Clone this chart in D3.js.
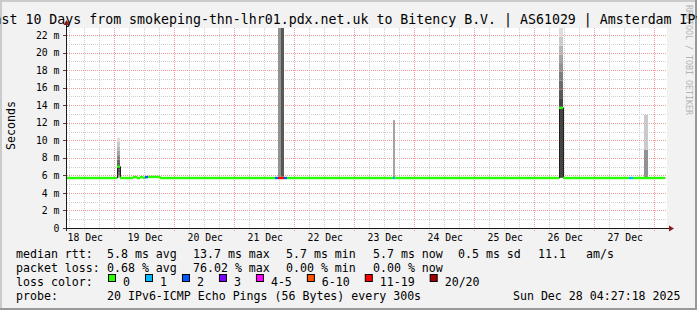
<!DOCTYPE html>
<html>
<head>
<meta charset="utf-8">
<script src="https://cdn.jsdelivr.net/npm/d3@7"></script>
<style>
body{margin:0;background:#f2f2f2}
svg{display:block}
text{font-family:"DejaVu Sans Mono",monospace}
</style>
</head>
<body>
<script>
// ---- data ----
var titleText = "Last 10 Days from smokeping-thn-lhr01.pdx.net.uk to Bitency B.V. | AS61029 | Amsterdam IPv6";
var yTicks = [0,2,4,6,8,10,12,14,16,18,20,22];        // ms
var dayLabels = ["18 Dec","19 Dec","20 Dec","21 Dec","22 Dec","23 Dec","24 Dec","25 Dec","26 Dec","27 Dec"];

// median rtt runs: start, end, median (ms), lost pings out of 20
var medianRuns = [
  ["12-18 05:05","12-19 01:05",5.7,0],
  ["12-19 01:05","12-19 02:15",7.0,0],
  ["12-19 02:15","12-19 07:30",5.7,0],
  ["12-19 07:30","12-19 09:05",5.8,0],
  ["12-19 09:05","12-19 10:15",5.7,0],
  ["12-19 10:15","12-19 11:30",5.8,0],
  ["12-19 11:30","12-19 12:15",5.7,0],
  ["12-19 12:15","12-19 13:30",5.8,2],
  ["12-19 13:30","12-19 18:15",5.82,0],
  ["12-19 18:15","12-21 16:15",5.7,0],
  ["12-21 16:15","12-21 17:30",5.7,2],
  ["12-21 17:30","12-21 18:40",5.7,14],
  ["12-21 18:40","12-21 19:55",5.7,11],
  ["12-21 19:55","12-21 21:05",5.7,2],
  ["12-21 21:05","12-23 15:30",5.7,0],
  ["12-23 15:30","12-23 16:15",5.7,1],
  ["12-23 16:15","12-26 09:55",5.7,0],
  ["12-26 09:55","12-26 11:30",13.7,0],
  ["12-26 11:30","12-27 13:55",5.7,0],
  ["12-27 13:55","12-27 15:30",5.7,1],
  ["12-27 15:30","12-28 04:15",5.7,0]
];

// smoke: start, end, sorted ping rtts (ms) that came back
var smokeSteps = [
  ["12-19 01:05","12-19 02:15",[5.7,5.7,5.7,5.8,5.8,5.9,6.0,6.3,6.7,7.0,7.0,7.2,7.5,7.8,8.1,8.4,8.8,9.3,9.8,10.3]],
  ["12-21 17:30","12-21 18:40",[5.7,5.7,5.8,5.8,5.9,80]],
  ["12-21 18:40","12-21 19:55",[5.7,5.7,5.8,5.8,5.8,5.8,5.9,5.9,90]],
  ["12-23 15:30","12-23 16:15",[5.7,5.7,5.7,5.7,5.7,5.8,5.8,5.8,5.8,5.8,5.8,5.8,5.8,5.9,5.9,5.9,12.3,12.3,12.3]],
  ["12-26 09:55","12-26 11:30",[5.7,5.7,5.7,5.7,5.7,5.7,5.7,5.7,5.8,13.6,13.8,14.8,15.8,16.8,17.8,18.8,19.8,20.8,21.8,24.0]],
  ["12-27 19:55","12-27 21:30",[5.7,5.7,5.7,5.7,5.7,5.7,5.7,5.8,5.8,5.8,5.8,5.8,5.8,5.9,5.9,8.9,8.9,8.9,12.9,12.9]]
];

var lossLabels = ["0","1","2","3","4-5","6-10","11-19","20/20"];
var lossLimits = [0,1,2,3,5,10,19,20];
var lossColors = ["#26ff00","#00b8ff","#0059ff","#7e00ff","#ff00ff","#ff5500","#ff0000","#a10000"];

var rttValues = [5.8,13.7,5.7,5.7,0.5];
var rttNames = ["avg","max","min","now","sd"];
var lossValues = [0.68,76.02,0.00,0.00];
var lossNames = ["avg","max","min","now"];
var amsValue = 11.1;
var probeText = "20 IPv6-ICMP Echo Pings (56 Bytes) every 300s";
var stampText = "Sun Dec 28 04:27:18 2025";

// ---- drawing ----
var W = 697, H = 310, PINGS = 20;
var parseT = d3.utcParse("%Y-%m-%d %H:%M");
function T(s){ return parseT("2025-" + s); }

var svg = d3.select("body").append("svg").attr("width",W).attr("height",H);

// frame with rrdtool style shading
svg.append("rect").attr("width",W).attr("height",H).attr("fill","#f2f2f2");
svg.append("rect").attr("width",W).attr("height",2).attr("fill","#cbcbcb");
svg.append("rect").attr("width",2).attr("height",H).attr("fill","#cbcbcb");
svg.append("rect").attr("x",W-2).attr("width",2).attr("height",H).attr("fill","#999999");
svg.append("rect").attr("y",H-2).attr("width",W).attr("height",2).attr("fill","#999999");

var x = d3.scaleUtc().domain([T("12-18 05:05"), T("12-28 05:05")]).range([67,667]);
var y = d3.scaleLinear().domain([0,22.8]).range([228,28]);

var pLeft = x.range()[0], pRight = x.range()[1], pTop = y.range()[1], pBottom = y.range()[0];

svg.append("rect")
  .attr("x",pLeft).attr("y",pTop)
  .attr("width",pRight-pLeft).attr("height",pBottom-pTop)
  .attr("fill","#ffffff");

// grid
var grid = svg.append("g").attr("fill","none").attr("stroke-dasharray","1,1");
var majorX = x.ticks(d3.utcDay);
var minorX = x.ticks(d3.utcHour.every(6)).filter(function(d){ return d.getUTCHours() != 0; });

grid.selectAll(".vmin").data(minorX).enter().append("line")
  .attr("x1",function(d){ return Math.round(x(d))+0.5; })
  .attr("x2",function(d){ return Math.round(x(d))+0.5; })
  .attr("y1",pTop).attr("y2",pBottom+3)
  .attr("stroke","#cfcfcf");

var minorY = y.ticks(23).filter(function(v){ return yTicks.indexOf(v) < 0; });
grid.selectAll(".hmin").data(minorY).enter().append("line")
  .attr("x1",pLeft).attr("x2",pRight)
  .attr("y1",function(d){ return Math.round(y(d))+0.5; })
  .attr("y2",function(d){ return Math.round(y(d))+0.5; })
  .attr("stroke","#cfcfcf");

grid.selectAll(".vmaj").data(majorX).enter().append("line")
  .attr("x1",function(d){ return Math.round(x(d))+0.5; })
  .attr("x2",function(d){ return Math.round(x(d))+0.5; })
  .attr("y1",pTop).attr("y2",pBottom+3)
  .attr("stroke","#f09a9a");

grid.selectAll(".hmaj").data(yTicks.slice(1)).enter().append("line")
  .attr("x1",pLeft).attr("x2",pRight)
  .attr("y1",function(d){ return Math.round(y(d))+0.5; })
  .attr("y2",function(d){ return Math.round(y(d))+0.5; })
  .attr("stroke","#f09a9a");

// plot clip
svg.append("clipPath").attr("id","plotclip")
  .append("rect").attr("x",pLeft).attr("y",pTop).attr("width",pRight-pLeft).attr("height",pBottom-pTop);
var plot = svg.append("g").attr("clip-path","url(#plotclip)");

// smoke bands: darker near the median rank, lighter at the extremes
var half = PINGS/2;
smokeSteps.forEach(function(s){
  var x0 = Math.round(x(T(s[0]))), x1 = Math.round(x(T(s[1])));
  var p = s[2];
  for (var k = 1; k < p.length; k++) {
    if (p[k] == p[k-1]) continue;
    var g = Math.round(190/half*Math.abs(half-k)) + 50;
    plot.append("rect")
      .attr("x",x0).attr("width",x1-x0)
      .attr("y",y(p[k])).attr("height",y(p[k-1])-y(p[k]))
      .attr("fill",d3.rgb(g,g,g));
  }
});

// thin dark median line
var pts = [];
medianRuns.forEach(function(r){
  pts.push([T(r[0]),r[2]]);
  pts.push([T(r[1]),r[2]]);
});
var line = d3.line()
  .x(function(d){ return Math.round(x(d[0]))+0.5; })
  .y(function(d){ return y(d[1]); });
plot.append("path").datum(pts)
  .attr("d",line)
  .attr("fill","none")
  .attr("stroke","#202020")
  .attr("stroke-width",1);

// loss coloured median bars
function lossColor(n){
  for (var i = 0; i < lossLimits.length; i++) if (n <= lossLimits[i]) return lossColors[i];
  return lossColors[lossColors.length-1];
}
plot.selectAll(".lossbar").data(medianRuns).enter().append("rect")
  .attr("x",function(d){ return Math.round(x(T(d[0]))); })
  .attr("width",function(d){ return Math.round(x(T(d[1])))-Math.round(x(T(d[0]))); })
  .attr("y",function(d){ return y(d[2])-1.2; })
  .attr("height",2.4)
  .attr("fill",function(d){ return lossColor(d[3]); });

// axes
svg.append("line")
  .attr("x1",pLeft-2).attr("x2",pRight+3)
  .attr("y1",pBottom+0.5).attr("y2",pBottom+0.5)
  .attr("stroke","#1a1a1a");
svg.append("line")
  .attr("x1",pLeft-0.5).attr("x2",pLeft-0.5)
  .attr("y1",pBottom+3).attr("y2",pTop-4)
  .attr("stroke","#1a1a1a");
svg.append("path")
  .attr("d","M"+(pRight+2)+","+(pBottom-2.5)+"L"+(pRight+7)+","+(pBottom+0.5)+"L"+(pRight+2)+","+(pBottom+3.5)+"Z")
  .attr("fill","#8a1a1a");
svg.append("path")
  .attr("d","M"+(pLeft-3.5)+","+(pTop-3)+"L"+(pLeft-0.5)+","+(pTop-8)+"L"+(pLeft+2.5)+","+(pTop-3)+"Z")
  .attr("fill","#8a1a1a");

// y ticks and labels
svg.selectAll(".ytick").data(yTicks).enter().append("line")
  .attr("x1",pLeft-4).attr("x2",pLeft-1)
  .attr("y1",function(d){ return Math.round(y(d))+0.5; })
  .attr("y2",function(d){ return Math.round(y(d))+0.5; })
  .attr("stroke","#444");
svg.selectAll(".ylab").data(yTicks).enter().append("text")
  .attr("x",59.5)
  .attr("y",function(d){ return y(d)+3.6; })
  .attr("text-anchor","end")
  .attr("style","font-size:9.8px;fill:#000")
  .text(function(d){ return d == 0 ? "0" : d+" m"; });

// x labels centred on noon of each day
var noons = dayLabels.map(function(d,i){
  return d3.utcHour.offset(d3.utcDay.offset(d3.utcDay.floor(x.domain()[0]), i), 12);
});
svg.selectAll(".xlab").data(dayLabels).enter().append("text")
  .attr("x",function(d,i){ return x(noons[i])+1; })
  .attr("y",241)
  .attr("text-anchor","middle")
  .attr("style","font-size:9.8px;fill:#000")
  .text(function(d){ return d; });

// vertical axis title
svg.append("text")
  .attr("transform","translate(14.5,125.5) rotate(-90)")
  .attr("text-anchor","middle")
  .attr("style","font-size:11.6px;fill:#000")
  .text("Seconds");

// watermark
svg.append("text")
  .attr("transform","translate(685.5,5) rotate(90)")
  .attr("style","font-size:8.3px;fill:#b4b4b4")
  .text("RRDTOOL / TOBI OETIKER");

// title
svg.append("text")
  .attr("x",W/2).attr("y",24)
  .attr("text-anchor","middle")
  .attr("style","font-size:13.25px;fill:#000")
  .text(titleText);

// legend
var leg = svg.append("g").attr("style","font-size:11.6px;fill:#000");
var cols = [107,193,286,373,458];
var rows = [258,272,286,300];
var charW = 6.98;

leg.append("text").attr("x",16).attr("y",rows[0]).text("median rtt:");
rttValues.forEach(function(v,i){
  leg.append("text").attr("x",cols[i]).attr("y",rows[0])
    .text(d3.format(".1f")(v)+" ms "+rttNames[i]);
});
leg.append("text").attr("x",538).attr("y",rows[0]).text(d3.format(".1f")(amsValue));
leg.append("text").attr("x",586).attr("y",rows[0]).text("am/s");

leg.append("text").attr("x",16).attr("y",rows[1]).text("packet loss:");
lossValues.forEach(function(v,i){
  leg.append("text").attr("x",cols[i]).attr("y",rows[1])
    .text(d3.format(".2f")(v)+" % "+lossNames[i]);
});

leg.append("text").attr("x",16).attr("y",rows[2]).text("loss color:");
var bx = 108;
lossLabels.forEach(function(l,i){
  leg.append("rect")
    .attr("x",bx+0.5).attr("y",rows[2]-11.5)
    .attr("width",7).attr("height",7)
    .attr("fill",lossColors[i])
    .attr("stroke","#000");
  leg.append("text").attr("x",bx+15).attr("y",rows[2]).text(l);
  bx = bx + 15 + l.length*charW + 15;
});

leg.append("text").attr("x",16).attr("y",rows[3]).text("probe:");
leg.append("text").attr("x",107).attr("y",rows[3]).text(probeText);
leg.append("text").attr("x",680.5).attr("y",rows[3]).attr("text-anchor","end").text(stampText);
</script>
</body>
</html>
